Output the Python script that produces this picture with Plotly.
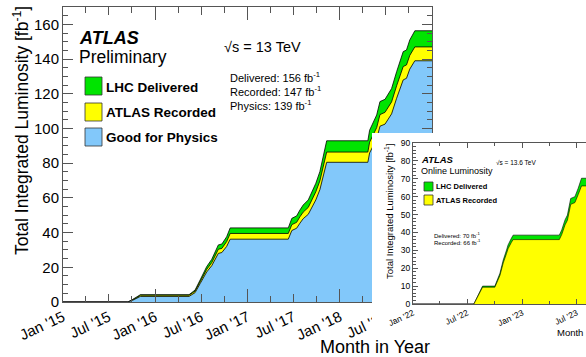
import plotly.graph_objects as go

W, H = 586, 357

# ---------------- main chart data (Run 2) ----------------
run2_dates = ['2015-01-01', '2015-09-15', '2015-10-04', '2015-10-20', '2015-11-03',
              '2016-05-14', '2016-06-07', '2016-06-27', '2016-07-23', '2016-08-12', '2016-08-29',
              '2016-09-07', '2016-09-21', '2016-10-10', '2016-10-24',
              '2017-06-11', '2017-06-25', '2017-07-14', '2017-07-27', '2017-08-09', '2017-08-29',
              '2017-09-18', '2017-09-28', '2017-10-14', '2017-10-30', '2017-11-10',
              '2018-04-22', '2018-04-29', '2018-05-27', '2018-06-09', '2018-06-29', '2018-07-25',
              '2018-08-14', '2018-09-09', '2018-09-22', '2018-10-05', '2018-10-25', '2019-01-01']
run2_delivered = [0, 0, 1.5, 2.7, 4.2,
                  4.2, 6.9, 12.7, 20.4, 24.6, 30.0,
                  32.9, 33.4, 37.6, 42.7,
                  42.7, 48.2, 49.6, 53.0, 55.9, 58.8,
                  65.5, 68.4, 75.1, 85.7, 92.9,
                  92.9, 99.0, 107.8, 115.5, 116.8, 123.0,
                  132.7, 144.3, 145.2, 151.0, 156.3, 156.3]
run2_recorded = [0, 0, 1.3, 2.4, 3.9,
                 3.9, 6.3, 11.7, 18.8, 22.7, 27.7,
                 30.4, 30.9, 34.8, 39.5,
                 39.5, 44.6, 45.9, 49.1, 51.8, 54.5,
                 60.8, 63.5, 69.8, 79.7, 86.4,
                 86.4, 92.1, 100.5, 108.0, 109.3, 115.3,
                 124.6, 135.7, 136.6, 142.1, 147.0, 147.0]
run2_physics = [0, 0, 1.0, 2.0, 3.2,
                3.2, 5.4, 10.6, 17.3, 20.9, 25.5,
                28.0, 28.5, 32.0, 36.2,
                36.2, 41.2, 42.5, 45.4, 48.0, 50.5,
                56.3, 58.8, 64.7, 73.8, 80.5,
                80.5, 85.9, 94.0, 101.3, 102.5, 108.4,
                117.4, 128.0, 128.9, 134.2, 139.0, 139.0]

# ---------------- inset data (Run 3) ----------------
run3_dates = ['2022-01-01', '2022-07-23', '2022-08-21', '2022-10-01', '2022-10-18', '2022-10-29',
              '2022-11-09', '2022-11-14', '2022-11-25', '2022-12-01', '2023-05-04', '2023-05-12',
              '2023-05-23', '2023-05-31', '2023-06-11', '2023-06-25', '2023-07-06', '2023-07-17',
              '2023-12-31']
run3_delivered = [0, 0, 10.0, 10.0, 17.2, 24.6, 30.2, 33.0, 36.7, 38.5, 38.5, 41.4,
                  47.0, 49.7, 59.0, 60.0, 64.7, 70.3, 70.3]
run3_recorded = [0, 0, 9.4, 9.4, 16.0, 23.0, 28.3, 30.9, 34.4, 36.0, 36.0, 38.8,
                 44.2, 46.8, 55.7, 56.7, 61.2, 66.0, 66.0]

GREEN = '#00E400'
YELLOW = '#FFFF00'
BLUE = '#82C8FA'
AXC = '#555555'
FONT = 'Liberation Sans, Arial, Helvetica, sans-serif'


def fx(x):
    return x / W


def fy(y):
    return 1 - y / H


fig = go.Figure()

for vals, col in [(run2_delivered, GREEN), (run2_recorded, YELLOW), (run2_physics, BLUE)]:
    fig.add_trace(go.Scatter(x=run2_dates, y=vals, mode='lines', fill='tozeroy',
                             fillcolor=col, line=dict(color='black', width=0.8),
                             xaxis='x', yaxis='y', hoverinfo='skip', showlegend=False))

# yearly long ticks on the main axis (overlay axis, no marks)
fig.add_trace(go.Scatter(x=[], y=[], xaxis='x4', yaxis='y', showlegend=False, hoverinfo='skip'))

# white cover for the inset box
fig.add_trace(go.Scatter(x=[], y=[], xaxis='x2', yaxis='y2', showlegend=False, hoverinfo='skip'))

for vals, col in [(run3_delivered, GREEN), (run3_recorded, YELLOW)]:
    fig.add_trace(go.Scatter(x=run3_dates, y=vals, mode='lines', fill='tozeroy',
                             fillcolor=col, line=dict(color='black', width=0.6),
                             xaxis='x3', yaxis='y3', hoverinfo='skip', showlegend=False))

tickfont_main = dict(family=FONT, size=15, color='black')
tickfont_in = dict(family=FONT, size=8.5, color='black')

layout = dict(
    template='none',
    width=W, height=H,
    margin=dict(l=0, r=0, t=0, b=0, pad=0),
    paper_bgcolor='white', plot_bgcolor='white',
    font=dict(family=FONT, color='black'),
    showlegend=False,
    xaxis=dict(domain=[fx(63), fx(432)], anchor='y', type='date', automargin=False,
               range=['2015-01-01', '2019-01-01'], tick0='2015-01-01', dtick='M6',
               tickformat="%b '%y", tickangle=-25, tickfont=tickfont_main,
               ticks='inside', ticklen=8, tickcolor=AXC, showline=True, linecolor=AXC,
               linewidth=1, mirror='ticks', showgrid=False, zeroline=False,
               minor=dict(dtick='M3', ticklen=6, tickcolor=AXC, ticks='inside', showgrid=False)),
    xaxis4=dict(overlaying='x', anchor='y', type='date', automargin=False,
                range=['2015-01-01', '2019-01-01'], tick0='2015-01-01', dtick='M12',
                showticklabels=False, ticks='inside', ticklen=13, tickcolor=AXC,
                showline=False, mirror='ticks', showgrid=False, zeroline=False, side='bottom'),
    yaxis=dict(domain=[fy(302), fy(7)], anchor='x', range=[0, 170], dtick=20, automargin=False,
               tickfont=tickfont_main, ticks='inside', ticklen=10, tickcolor=AXC,
               showline=True, linecolor=AXC, linewidth=1, mirror='ticks',
               showgrid=False, zeroline=False,
               minor=dict(dtick=5, ticklen=5, tickcolor=AXC, ticks='inside', showgrid=False)),
    xaxis2=dict(domain=[fx(372), 1.0], anchor='y2', showline=False, showticklabels=False,
                automargin=False, ticks='', showgrid=False, zeroline=False, range=[0, 1]),
    yaxis2=dict(domain=[fy(340), fy(133)], anchor='x2', showline=False, showticklabels=False,
                automargin=False, ticks='', showgrid=False, zeroline=False, range=[0, 1]),
    xaxis3=dict(domain=[fx(413), 1.0], anchor='y3', type='date', automargin=False,
                range=['2022-01-01', '2023-08-01'], tick0='2022-01-01', dtick='M6',
                tickformat="%b '%y", tickangle=-25, tickfont=tickfont_in,
                ticks='inside', ticklen=5, tickcolor=AXC, showline=True, linecolor=AXC,
                linewidth=1, mirror='ticks', showgrid=False, zeroline=False,
                minor=dict(dtick='M3', ticklen=3, tickcolor=AXC, ticks='inside', showgrid=False)),
    yaxis3=dict(domain=[fy(304), fy(143)], anchor='x3', range=[0, 90], dtick=10, automargin=False,
                tickfont=tickfont_in, ticks='inside', ticklen=5, tickcolor=AXC,
                showline=True, linecolor=AXC, linewidth=1, mirror=False,
                showgrid=False, zeroline=False,
                minor=dict(dtick=2, ticklen=2.5, tickcolor=AXC, ticks='inside', showgrid=False)),
)


def ann(text, x, y, size, xanchor='left', yanchor='middle', angle=0):
    return dict(text=text, x=fx(x), y=fy(y), xref='paper', yref='paper', showarrow=False,
                xanchor=xanchor, yanchor=yanchor, textangle=angle,
                font=dict(family=FONT, size=size, color='black'))


annotations = [
    ann('Total Integrated Luminosity [fb<sup>-1</sup>]', 21, 131, 17.5, 'center', 'middle', -90),
    ann('Month in Year', 432, 347, 18, 'right'),
    ann('<b><i>ATLAS</i></b>', 77, 38, 18),
    ann('Preliminary', 77, 57, 17.5),
    ann('√s = 13 TeV', 222, 47, 14.5),
    ann('Delivered: 156 fb<sup>-1</sup>', 228, 77, 11),
    ann('Recorded: 147 fb<sup>-1</sup>', 228, 91, 11),
    ann('Physics: 139 fb<sup>-1</sup>', 228, 105, 11),
    ann('<b>LHC Delivered</b>', 104, 87, 13.5),
    ann('<b>ATLAS Recorded</b>', 104, 112.5, 13.5),
    ann('<b>Good for Physics</b>', 104, 137.5, 13.5),
    # inset
    ann('Total Integrated Luminosity [fb<sup>-1</sup>]', 389, 212, 9.5, 'center', 'middle', -90),
    ann('Month in Year', 555, 332, 9.5),
    ann('<b><i>ATLAS</i></b>', 419, 159, 9.5),
    ann('Online Luminosity', 419, 170.5, 9),
    ann('√s = 13.6 TeV', 494, 163, 6.5),
    ann('<b>LHC Delivered</b>', 434, 186.5, 7.5),
    ann('<b>ATLAS Recorded</b>', 434, 200.5, 7.5),
    ann('Delivered: 70 fb<sup>-1</sup>', 432, 235, 6),
    ann('Recorded: 66 fb<sup>-1</sup>', 432, 242, 6),
]
layout['annotations'] = annotations


def box(x0, y0, x1, y1, col):
    return dict(type='rect', xref='paper', yref='paper', x0=fx(x0), x1=fx(x1),
                y0=fy(y1), y1=fy(y0), fillcolor=col, line=dict(color='#333333', width=0.8),
                layer='above')


layout['shapes'] = [
    box(85, 77, 102, 95, GREEN),
    box(85, 103, 102, 121, YELLOW),
    box(85, 128, 102, 146, BLUE),
    box(424, 182, 433, 191, GREEN),
    box(424, 195, 433, 205, YELLOW),
]

fig.update_layout(**layout)
fig.write_html('out.html')
